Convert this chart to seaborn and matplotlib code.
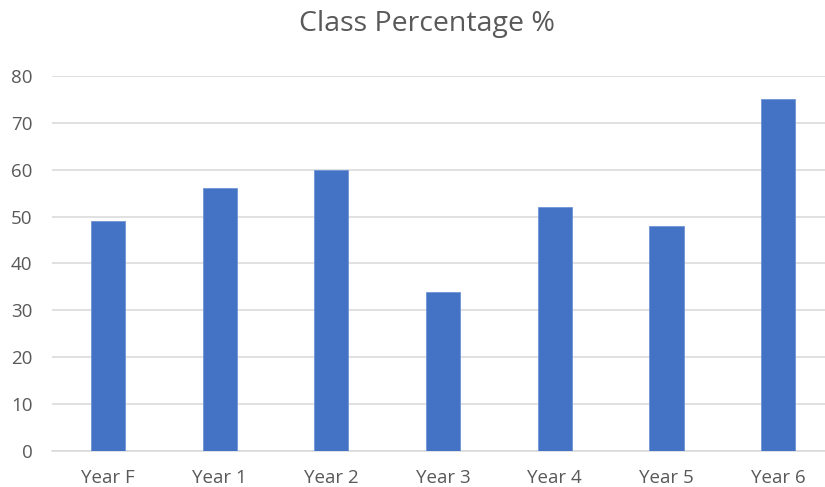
import pandas as pd
import matplotlib
matplotlib.use("Agg")
import matplotlib.pyplot as plt
import seaborn as sns

classes = ["Year F", "Year 1", "Year 2", "Year 3", "Year 4", "Year 5", "Year 6"]
percent = [49, 56, 60, 34, 52, 48, 75]
yticks = [0, 10, 20, 30, 40, 50, 60, 70, 80]

df = pd.DataFrame({"Class": classes, "Percent": percent})

sns.set_style("white")
plt.rcParams["font.family"] = ["Open Sans", "DejaVu Sans"]

fig = plt.figure(figsize=(8.25, 4.87), dpi=100)
ax = fig.add_axes([0.063, 0.074, 0.948, 0.770])

sns.barplot(data=df, x="Class", y="Percent", color="#4472C4", width=0.305,
            saturation=1, edgecolor="#6E93D6", linewidth=0.6, ax=ax, zorder=3)

ax.set_ylim(0, 80)
ax.set_xlim(-0.5, 6.5)
ax.set_yticks(yticks)
ax.yaxis.grid(True, color="#D9D9D9", linewidth=1.1, zorder=0)
ax.set_axisbelow(True)
for s in ["top", "right", "left"]:
    ax.spines[s].set_visible(False)
ax.spines["bottom"].set_color("#D9D9D9")
ax.spines["bottom"].set_linewidth(1.1)
ax.tick_params(axis="both", length=0, labelsize=13.5, labelcolor="#595959")
ax.tick_params(axis="x", pad=13)
ax.tick_params(axis="y", pad=14)
ax.set_xlabel("")
ax.set_ylabel("")

fig.suptitle("Class Percentage %", x=0.518, y=0.98, fontsize=20.5, color="#595959")

fig.savefig("out.png", dpi=100)
